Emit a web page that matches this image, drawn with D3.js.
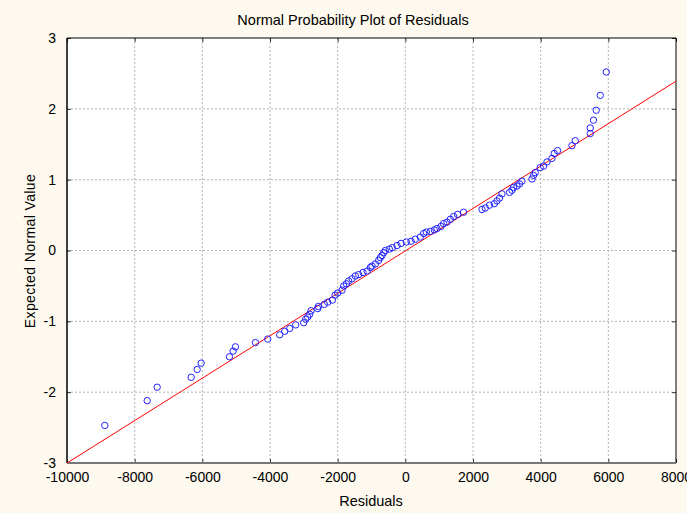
<!DOCTYPE html>
<html><head><meta charset="utf-8">
<script src="https://cdn.jsdelivr.net/npm/d3@7/dist/d3.min.js"></script>
<style>body{margin:0;background:#fdf9ee;}svg{display:block;}text{font-family:"Liberation Sans",Arial,sans-serif;fill:#000;}</style>
</head><body><svg id="c" width="687" height="513"></svg>
<script>
const title = "Normal Probability Plot of Residuals";
const xLabel = "Residuals";
const yLabel = "Expected Normal Value";
const xTicks = [-10000,-8000,-6000,-4000,-2000,0,2000,4000,6000,8000];
const yTicks = [-3,-2,-1,0,1,2,3];
const residuals = [-8883,-7630,-7335,-6330,-6153,-6035,-5199,-5090,-5022,-4431,-4068,-3713,-3565,-3418,-3240,-3004,-2945,-2886,-2827,-2786,-2590,-2570,-2393,-2295,-2156,-2077,-2000,-1870,-1823,-1743,-1675,-1575,-1477,-1380,-1250,-1131,-1034,-984,-886,-789,-738,-688,-641,-591,-473,-384,-245,-127,30,168,295,443,541,620,739,857,936,1055,1131,1232,1329,1427,1545,1722,2266,2363,2490,2629,2709,2786,2856,3081,3152,3199,3300,3376,3447,3743,3790,3840,3988,4085,4186,4333,4401,4499,4924,5022,5465,5465,5562,5642,5760,5938];
const expected = [-2.47,-2.12,-1.93,-1.79,-1.68,-1.59,-1.50,-1.42,-1.36,-1.30,-1.25,-1.19,-1.14,-1.10,-1.05,-1.02,-0.97,-0.94,-0.90,-0.85,-0.82,-0.79,-0.76,-0.73,-0.70,-0.63,-0.60,-0.56,-0.50,-0.47,-0.43,-0.40,-0.36,-0.34,-0.31,-0.29,-0.24,-0.22,-0.19,-0.14,-0.10,-0.07,-0.03,0.00,0.02,0.04,0.07,0.10,0.12,0.13,0.16,0.19,0.24,0.26,0.27,0.29,0.31,0.34,0.38,0.40,0.44,0.48,0.51,0.54,0.58,0.60,0.64,0.66,0.70,0.74,0.80,0.82,0.85,0.89,0.91,0.94,0.98,1.01,1.06,1.10,1.17,1.19,1.25,1.30,1.37,1.41,1.48,1.55,1.65,1.73,1.84,1.98,2.19,2.52];
const fitLine = [[-10000,-3.0],[8000,2.39]];

const svg = d3.select("#c");
const L=67,R=676,T=38,B=463;
const x = d3.scaleLinear().domain([-10000,8000]).range([L,R]);
const y = d3.scaleLinear().domain([-3,3]).range([B,T]);
const fmt = d => String(d);

svg.append("rect").attr("x",L).attr("y",T).attr("width",R-L).attr("height",B-T).attr("fill","#fff");

// grid
const g = svg.append("g");
g.selectAll(".vg").data(xTicks.slice(1,-1)).enter().append("line")
 .attr("x1",d=>x(d)).attr("x2",d=>x(d)).attr("y1",T).attr("y2",B)
 .attr("stroke","#b4b4b4").attr("stroke-dasharray","2,2");
g.selectAll(".hg").data(yTicks.slice(1,-1)).enter().append("line")
 .attr("y1",d=>y(d)).attr("y2",d=>y(d)).attr("x1",L).attr("x2",R)
 .attr("stroke","#b4b4b4").attr("stroke-dasharray","2,2");

// axes
const xa = svg.append("g").attr("transform",`translate(0,${B})`)
 .call(d3.axisBottom(x).tickValues(xTicks).tickSize(-4).tickPadding(9).tickFormat(fmt));
const xt = svg.append("g").attr("transform",`translate(0,${T})`)
 .call(d3.axisTop(x).tickValues(xTicks).tickSize(-4).tickFormat(""));
const ya = svg.append("g").attr("transform",`translate(${L},0)`)
 .call(d3.axisLeft(y).tickValues(yTicks).tickSize(-4).tickPadding(11).tickFormat(fmt));
const yr = svg.append("g").attr("transform",`translate(${R},0)`)
 .call(d3.axisRight(y).tickValues(yTicks).tickSize(-4).tickFormat(""));
[xa,xt,ya,yr].forEach(a=>{a.select(".domain").remove();a.selectAll(".tick line").attr("stroke","#333");});
xa.selectAll("text").attr("font-size",14).attr("font-family","Liberation Sans, Arial");
ya.selectAll("text").attr("font-size",14).attr("font-family","Liberation Sans, Arial");

// frame
svg.append("line").attr("x1",L).attr("x2",R).attr("y1",T).attr("y2",T).attr("stroke","#000");
svg.append("line").attr("x1",R).attr("x2",R).attr("y1",T).attr("y2",B).attr("stroke","#000");
svg.append("line").attr("x1",L).attr("x2",L).attr("y1",T).attr("y2",B).attr("stroke","#000").attr("stroke-width",1.5);
svg.append("line").attr("x1",L).attr("x2",R).attr("y1",B).attr("y2",B).attr("stroke","#777").attr("stroke-width",2);

// fit line
svg.append("line").attr("x1",x(fitLine[0][0])).attr("y1",y(fitLine[0][1]))
 .attr("x2",x(fitLine[1][0])).attr("y2",y(fitLine[1][1])).attr("stroke","#ff0000").attr("stroke-width",1);

// points
svg.append("g").selectAll("circle").data(residuals.map((r,i)=>[r,expected[i]])).enter().append("circle")
 .attr("cx",d=>x(d[0])).attr("cy",d=>y(d[1])).attr("r",3.2)
 .attr("fill","none").attr("stroke","#2222ff").attr("stroke-width",1);

// labels
svg.append("text").attr("x",353).attr("y",25).attr("text-anchor","middle").attr("font-size",14.5).text(title);
svg.append("text").attr("x",371).attr("y",506).attr("text-anchor","middle").attr("font-size",14.5).text(xLabel);
svg.append("text").attr("transform","translate(35,251) rotate(-90)").attr("text-anchor","middle").attr("font-size",14).attr("letter-spacing","0.4").text(yLabel);
</script></body></html>
